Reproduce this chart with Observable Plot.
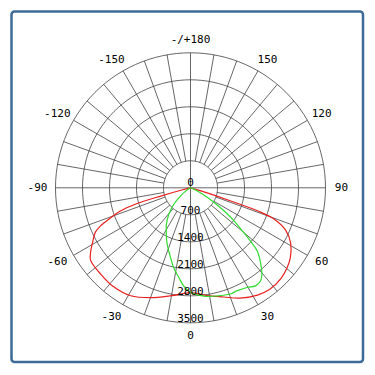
<!DOCTYPE html>
<html><head><meta charset="utf-8">
<script src="https://cdn.jsdelivr.net/npm/d3@7"></script>
<script src="https://cdn.jsdelivr.net/npm/@observablehq/plot@0.6"></script>
<style>body{margin:0;background:#fff}#chart{width:375px;height:375px}</style>
</head><body><div id="chart"></div>
<script>
// Radial rings (cd) and their labels
const rings = [700, 1400, 2100, 2800, 3500];
const ringLabels = ["700", "1400", "2100", "2800", "3500"];
// Angle labels (degrees, 0 = straight down, positive to the right)
const angleTicks = [0, 30, 60, 90, 120, 150, 180, -150, -120, -90, -60, -30];
const angleLabels = ["0", "30", "60", "90", "120", "150", "-/+180", "-150", "-120", "-90", "-60", "-30"];
// Red curve: gamma (deg) and intensity (cd)
const redGamma = [-90, -76, -74.5, -73.5, -71.5, -69, -67, -65, -61, -57, -54, -46, -38, -29, -20, -10, 0, 9, 17, 24, 32, 38, 45, 51, 55, 61, 66, 69.5, 71, 72, 73.5, 90];
const redCd = [0, 210, 780, 1480, 1940, 2260, 2540, 2720, 2900, 3090, 3200, 3230, 3250, 3200, 3030, 2840, 2720, 2830, 2960, 3130, 3280, 3340, 3320, 3240, 3160, 2970, 2700, 2310, 1870, 1040, 260, 0];
// Green curve: gamma (deg) and intensity (cd)
const greenGamma = [-90, -56, -51, -45.5, -39.5, -33.5, -27.5, -22.5, -16, -12, -7.5, -4, 0, 7, 14, 20.5, 24.5, 29.5, 33.5, 37, 39.5, 42.5, 46.5, 48.5, 50.5, 53, 55.5, 58.5, 62, 68, 90];
const greenCd = [0, 130, 330, 600, 880, 1130, 1360, 1580, 1880, 2110, 2340, 2550, 2710, 2830, 2890, 2940, 2930, 2970, 3050, 3020, 2910, 2700, 2390, 2050, 1710, 1400, 1060, 700, 360, 100, 0];

const maxR = 3500;
const rad = d => d * Math.PI / 180;
const px = (g, r) => r * Math.sin(rad(g));
const py = (g, r) => r * Math.cos(rad(g));

const ringPts = rings.flatMap(r => d3.range(0, 361, 3).map(a => ({ring: r, x: px(a, r), y: py(a, r)})));
const spokes = d3.range(0, 360, 10).filter(a => a % 90 !== 0).map(a => ({x1: px(a, rings[0]), y1: py(a, rings[0]), x2: px(a, maxR), y2: py(a, maxR)}));
const axes = [
  {x1: -maxR, y1: 0, x2: maxR, y2: 0},
  {x1: 0, y1: -maxR, x2: 0, y2: maxR}
];
const curve = (G, C) => G.map((g, i) => ({x: px(g, C[i]), y: py(g, C[i])}));
const red = curve(redGamma, redCd);
const green = curve(greenGamma, greenCd);

const labR = 3837;
const angLab = angleTicks.map((a, i) => ({x: px(a, labR), y: py(a, labR), t: angleLabels[i], side: Math.sign(Math.round(Math.sin(rad(a)) * 1000))}));
const ringLab = rings.map((r, i) => ({x: 0, y: r, t: ringLabels[i]}));

const mono = "DejaVu Sans Mono, monospace";
const gridColor = "#404040";
const chart = Plot.plot({
  width: 375, height: 375,
  margin: 0,
  x: {domain: [-maxR, maxR], range: [190 - 135, 190 + 135], axis: null},
  y: {domain: [-maxR, maxR], range: [187.3 - 135, 187.3 + 135], axis: null},
  style: {background: "#fff"},
  marks: [
    Plot.frame({stroke: "#3d6a96", strokeWidth: 2.5, rx: 3, insetLeft: 11, insetTop: 11, insetRight: 12.5, insetBottom: 13.5}),
    Plot.line(ringPts, {x: "x", y: "y", z: "ring", stroke: gridColor, strokeWidth: 0.8, curve: "catmull-rom"}),
    Plot.link(spokes, {x1: "x1", y1: "y1", x2: "x2", y2: "y2", stroke: gridColor, strokeWidth: 0.8}),
    Plot.link(axes, {x1: "x1", y1: "y1", x2: "x2", y2: "y2", stroke: gridColor, strokeWidth: 0.8}),
    Plot.line(red, {x: "x", y: "y", stroke: "#e82020", strokeWidth: 1.2, curve: "catmull-rom"}),
    Plot.line(green, {x: "x", y: "y", stroke: "#2fdc2f", strokeWidth: 1.2, curve: "catmull-rom"}),
    Plot.text(angLab.filter(d => d.side < 0), {x: "x", y: "y", text: "t", dx: -5, fontSize: 11, fontFamily: mono, fill: "#000"}),
    Plot.text(angLab.filter(d => d.side > 0), {x: "x", y: "y", text: "t", dx: 3, fontSize: 11, fontFamily: mono, fill: "#000"}),
    Plot.text(angLab.filter(d => d.side === 0), {x: "x", y: "y", text: "t", fontSize: 11, fontFamily: mono, fill: "#000"}),
    Plot.text(ringLab, {x: "x", y: "y", text: "t", dy: -4, fontSize: 11, fontFamily: mono, fill: "#000"}),
    Plot.text([{x: 0, y: 0, t: "0"}], {x: "x", y: "y", text: "t", dy: -5, fontSize: 11, fontFamily: mono, fill: "#000"})
  ]
});
document.getElementById("chart").appendChild(chart);
</script></body></html>
